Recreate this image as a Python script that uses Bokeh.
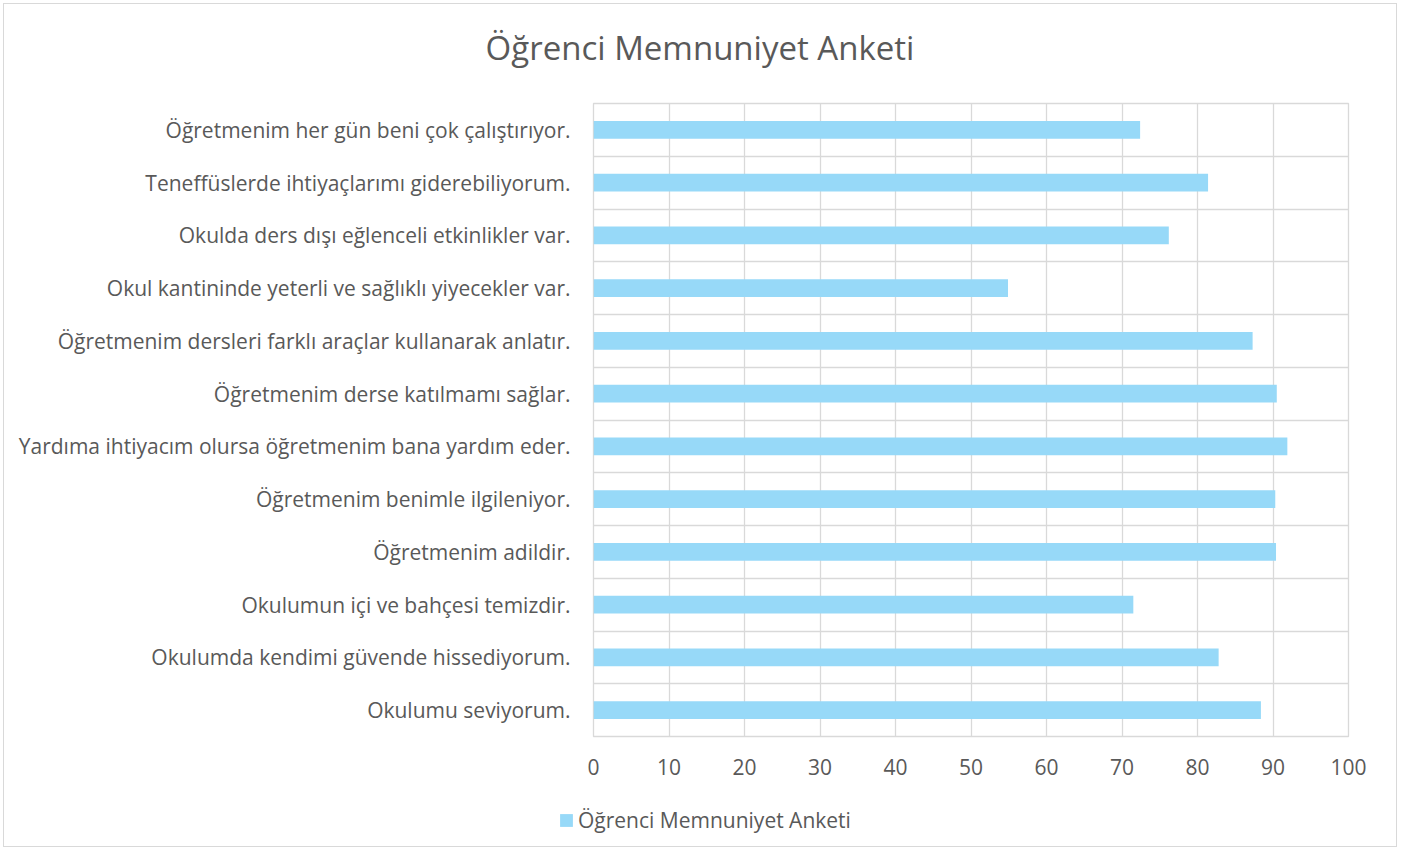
from bokeh.plotting import figure
from bokeh.layouts import column
from bokeh.models import FixedTicker, Legend, LegendItem, ColumnDataSource, Div
from bokeh.embed import file_html
from bokeh.resources import INLINE

# Categories listed from bottom to top (Excel order)
categories = [
    "Okulumu seviyorum.",
    "Okulumda kendimi güvende hissediyorum.",
    "Okulumun içi ve bahçesi temizdir.",
    "Öğretmenim adildir.",
    "Öğretmenim benimle ilgileniyor.",
    "Yardıma ihtiyacım olursa öğretmenim bana yardım eder.",
    "Öğretmenim derse katılmamı sağlar.",
    "Öğretmenim dersleri farklı araçlar kullanarak anlatır.",
    "Okul kantininde yeterli ve sağlıklı yiyecekler var.",
    "Okulda ders dışı eğlenceli etkinlikler var.",
    "Teneffüslerde ihtiyaçlarımı giderebiliyorum.",
    "Öğretmenim her gün beni çok çalıştırıyor.",
]
values = [88.4, 82.8, 71.5, 90.4, 90.3, 91.9, 90.5, 87.3, 54.9, 76.2, 81.4, 72.4]
x_ticks = [0, 10, 20, 30, 40, 50, 60, 70, 80, 90, 100]
series_name = "Öğrenci Memnuniyet Anketi"
title_text = "Öğrenci Memnuniyet Anketi"

FONT = "Open Sans"
TEXT_COLOR = "#595959"
GRID = "#d9d9d9"
BAR = "#97D9F8"

positions = list(range(len(categories)))
src = ColumnDataSource(dict(y=positions, v=values, cat=categories))

# Title
title_div = Div(
    text=(f'<div style="font-family:\'Open Sans\';font-size:33px;color:{TEXT_COLOR};'
          f'text-align:center;width:1392px;line-height:40px;padding-top:24px;">{title_text}</div>'),
    width=1392, height=72, margin=(0, 0, 0, 0),
)

p = figure(
    width=1392, height=715,
    x_range=(0, 100), y_range=(-0.5, len(categories) - 0.5),
    output_backend="svg", toolbar_location=None,
    min_border_left=589, min_border_right=48,
    min_border_top=27, min_border_bottom=55,
)
p.background_fill_color = "white"
p.border_fill_color = "white"
p.outline_line_color = GRID
p.outline_line_width = 1.3

r = p.hbar(y="y", right="v", left=0, height=0.34, source=src,
           fill_color=BAR, line_color=None)

# X axis
p.xaxis.ticker = FixedTicker(ticks=x_ticks)
p.xaxis.major_label_text_font = FONT
p.xaxis.major_label_text_font_size = "21px"
p.xaxis.major_label_text_color = TEXT_COLOR
p.xaxis.axis_line_color = None
p.xaxis.major_tick_line_color = None
p.xaxis.minor_tick_line_color = None
p.xaxis.major_tick_out = 0
p.xaxis.major_label_standoff = 22

# Y axis
p.yaxis.ticker = FixedTicker(ticks=positions)
p.yaxis.major_label_overrides = {i: c for i, c in zip(positions, categories)}
p.yaxis.major_label_text_font = FONT
p.yaxis.major_label_text_font_size = "21px"
p.yaxis.major_label_text_color = TEXT_COLOR
p.yaxis.axis_line_color = None
p.yaxis.major_tick_line_color = None
p.yaxis.minor_tick_line_color = None
p.yaxis.major_tick_out = 0
p.yaxis.major_label_standoff = 23

# Grids
p.xgrid.ticker = FixedTicker(ticks=x_ticks)
p.xgrid.grid_line_color = GRID
p.xgrid.grid_line_width = 1.3
p.ygrid.ticker = FixedTicker(ticks=[i - 0.5 for i in range(len(categories) + 1)])
p.ygrid.grid_line_color = GRID
p.ygrid.grid_line_width = 1.3

# Legend strip (separate small figure below the chart)
p2 = figure(
    width=1392, height=55,
    x_range=(-300, -200), y_range=(-0.5, len(categories) - 0.5),
    output_backend="svg", toolbar_location=None,
    min_border_left=0, min_border_right=0, min_border_top=0, min_border_bottom=0,
)
p2.frame_align = False
p2.axis.visible = False
p2.grid.visible = False
p2.outline_line_color = None
p2.background_fill_color = "white"
p2.border_fill_color = "white"
swatch = p2.hbar(y="y", right="v", left=0, height=0.34, source=src,
                 fill_color=BAR, line_color=None)

legend = Legend(items=[LegendItem(label=series_name, renderers=[swatch])],
                location=(554, 12), orientation="horizontal")
legend.label_text_font = FONT
legend.label_text_font_size = "21px"
legend.label_text_color = TEXT_COLOR
legend.glyph_width = 16
legend.glyph_height = 16
legend.label_standoff = 4
legend.padding = 0
legend.margin = 0
legend.border_line_color = None
legend.background_fill_alpha = 0
p2.add_layout(legend, "center")

layout = column(title_div, p, p2, spacing=0)
layout.styles = {"border": "1px solid #d9d9d9", "margin-left": "3px", "margin-top": "3px",
                 "background-color": "white"}

open("out.html", "w").write(file_html(layout, INLINE))
